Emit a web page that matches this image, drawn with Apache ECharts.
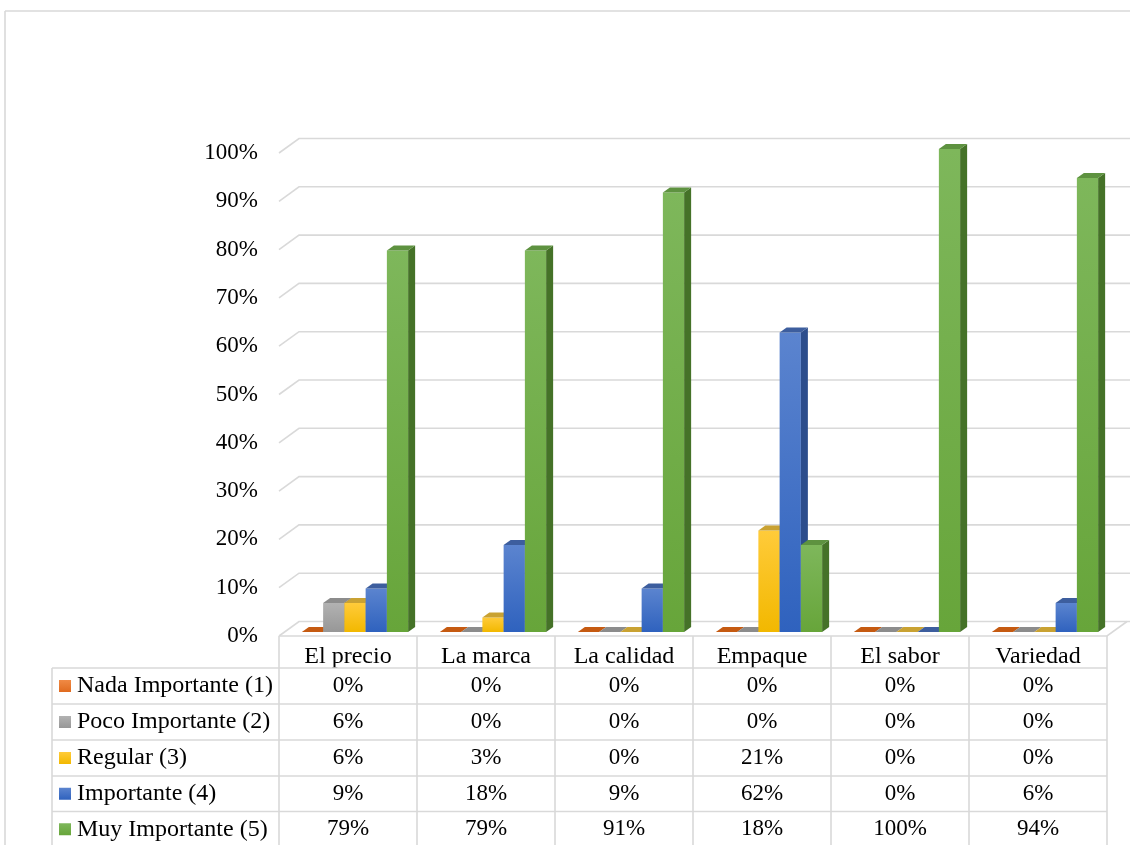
<!DOCTYPE html>
<html><head><meta charset="utf-8">
<script src="https://cdn.jsdelivr.net/npm/echarts/dist/echarts.min.js"></script>
<style>html,body{margin:0;padding:0;background:#fff}#c{width:1130px;height:845px}</style>
</head><body><div id="c"></div>
<script>
// ---- data ----
const categories = ['El precio', 'La marca', 'La calidad', 'Empaque', 'El sabor', 'Variedad'];
const seriesNames = ['Nada Importante (1)', 'Poco Importante (2)', 'Regular (3)', 'Importante (4)', 'Muy Importante (5)'];
const nadaImportante = [0, 0, 0, 0, 0, 0];
const pocoImportante = [6, 0, 0, 0, 0, 0];
const regular = [6, 3, 0, 21, 0, 0];
const importante = [9, 18, 9, 62, 0, 6];
const muyImportante = [79, 79, 91, 18, 100, 94];
const yTicks = [0, 10, 20, 30, 40, 50, 60, 70, 80, 90, 100];
const seriesValues = [nadaImportante, pocoImportante, regular, importante, muyImportante];

// ---- styles ----
const FONT = '"Liberation Serif","Times New Roman",serif';
const baseColors = ['#ED7D31', '#A5A5A5', '#FFC000', '#4472C4', '#70AD47'];
const frontTop = ['#F08A45', '#B2B2B2', '#FFCB3A', '#5B84CF', '#7EB75B'];
const frontBot = ['#E06B1F', '#979797', '#F2B800', '#2F62BE', '#67A53A'];
const sideCol = ['#A9561C', '#747474', '#B58A12', '#2C4D8C', '#457228'];
const topCol = ['#C55A11', '#8C8C8C', '#C9A232', '#3D5E9E', '#5E9240'];
const GRID_COL = '#D9D9D9';

const GL = 279, GR = 1107, GT = 153, GB = 636;
const WX = 20, WY = -14.5;      // back wall offset
const FX = 7, FY = -4;          // bar front plane offset
const DX = 7, DY = -5;          // bar depth
const rowLines = [668, 704, 740, 776, 811.5, 847];
const KEY_X = 52;

const chart = echarts.init(document.getElementById('c'), null, {renderer: 'canvas'});

function gridRender(params, api) {
  const v = api.value(1);
  const y = api.coord([0, v])[1];
  const x0 = params.coordSys.x, x1 = params.coordSys.x + params.coordSys.width;
  const children = [{
    type: 'polyline',
    shape: {points: [[x0, y], [x0 + WX, y + WY], [1130, y + WY]]},
    style: {stroke: GRID_COL, lineWidth: 1.6, fill: null}
  }];
  if (v === 0) {
    children.push({
      type: 'polyline',
      shape: {points: [[x0, y], [x1, y], [x1 + WX, y + WY]]},
      style: {stroke: GRID_COL, lineWidth: 1.6, fill: null}
    });
  }
  return {type: 'group', children};
}

function barRender(s) {
  return function (params, api) {
    const ci = api.value(0), v = api.value(1);
    const base = api.coord([ci, 0]);
    const top = api.coord([ci, v]);
    const catW = api.size([1, 0])[0];
    const bw = catW * 0.77 / 5;
    const x0 = base[0] - 2.5 * bw + s * bw + FX;
    const x1 = x0 + bw;
    const yb = base[1] + FY, yt = top[1] + FY;
    const children = [];
    if (yb - yt > 0.5) {
      children.push({
        type: 'rect',
        shape: {x: x0, y: yt, width: bw, height: yb - yt},
        style: {fill: new echarts.graphic.LinearGradient(0, 0, 0, 1, [
          {offset: 0, color: frontTop[s]}, {offset: 1, color: frontBot[s]}])}
      });
      children.push({
        type: 'polygon',
        shape: {points: [[x1, yt], [x1 + DX, yt + DY], [x1 + DX, yb + DY], [x1, yb]]},
        style: {fill: sideCol[s]}
      });
    }
    children.push({
      type: 'polygon',
      shape: {points: [[x0, yt], [x0 + DX, yt + DY], [x1 + DX, yt + DY], [x1, yt]]},
      style: {fill: topCol[s]}
    });
    return {type: 'group', children};
  };
}

// ---- table graphics ----
const graphics = [];
function line(x1, y1, x2, y2) {
  graphics.push({type: 'line', silent: true, z: 1,
    shape: {x1, y1, x2, y2}, style: {stroke: GRID_COL, lineWidth: 1.6}});
}
// outer chart border
line(5, 11, 1130, 11);
line(5, 11, 5, 845);
// table horizontal lines
rowLines.forEach(y => line(KEY_X, y, GR, y));
// table vertical lines
line(KEY_X, rowLines[0], KEY_X, 845);
const colW = (GR - GL) / categories.length;
for (let i = 0; i <= categories.length; i++) line(GL + i * colW, GB, GL + i * colW, 845);
// rows
seriesNames.forEach((name, s) => {
  const yc = (rowLines[s] + rowLines[s + 1]) / 2;
  graphics.push({type: 'rect', silent: true, z: 2,
    shape: {x: 59, y: yc - 6, width: 12, height: 12},
    style: {fill: new echarts.graphic.LinearGradient(0, 0, 0, 1, [
      {offset: 0, color: frontTop[s]}, {offset: 1, color: frontBot[s]}])}});
  graphics.push({type: 'text', silent: true, z: 2,
    style: {text: name, x: 77, y: yc, font: '24px ' + FONT, fill: '#000',
      textAlign: 'left', textVerticalAlign: 'middle', verticalAlign: 'middle'}});
  seriesValues[s].forEach((v, i) => {
    graphics.push({type: 'text', silent: true, z: 2,
      style: {text: v + '%', x: GL + (i + 0.5) * colW, y: yc, font: '23px ' + FONT, fill: '#000',
        textAlign: 'center', textVerticalAlign: 'middle', verticalAlign: 'middle'}});
  });
});

const series = [{
  type: 'custom', z: 1,
  renderItem: gridRender,
  data: yTicks.map(v => [0, v]),
  encode: {x: 0, y: 1},
  silent: true
}];
seriesValues.forEach((vals, s) => {
  series.push({
    type: 'custom', name: seriesNames[s], z: 3 + s,
    renderItem: barRender(s),
    data: vals.map((v, i) => [i, v]),
    encode: {x: 0, y: 1},
    silent: true
  });
});

chart.setOption({
  animation: false,
  backgroundColor: '#fff',
  grid: {left: GL, right: 1130 - GR, top: GT, bottom: 845 - GB, containLabel: false},
  xAxis: {
    type: 'category', data: categories,
    axisLine: {show: false}, axisTick: {show: false},
    axisLabel: {margin: 9, color: '#000', fontFamily: FONT, fontSize: 24},
    splitLine: {show: false}
  },
  yAxis: {
    type: 'value', min: 0, max: 100, interval: 10,
    axisLine: {show: false}, axisTick: {show: false},
    axisLabel: {margin: 21, color: '#000', fontFamily: FONT, fontSize: 23, formatter: '{value}%'},
    splitLine: {show: false}
  },
  graphic: graphics,
  series
});
</script>
</body></html>
